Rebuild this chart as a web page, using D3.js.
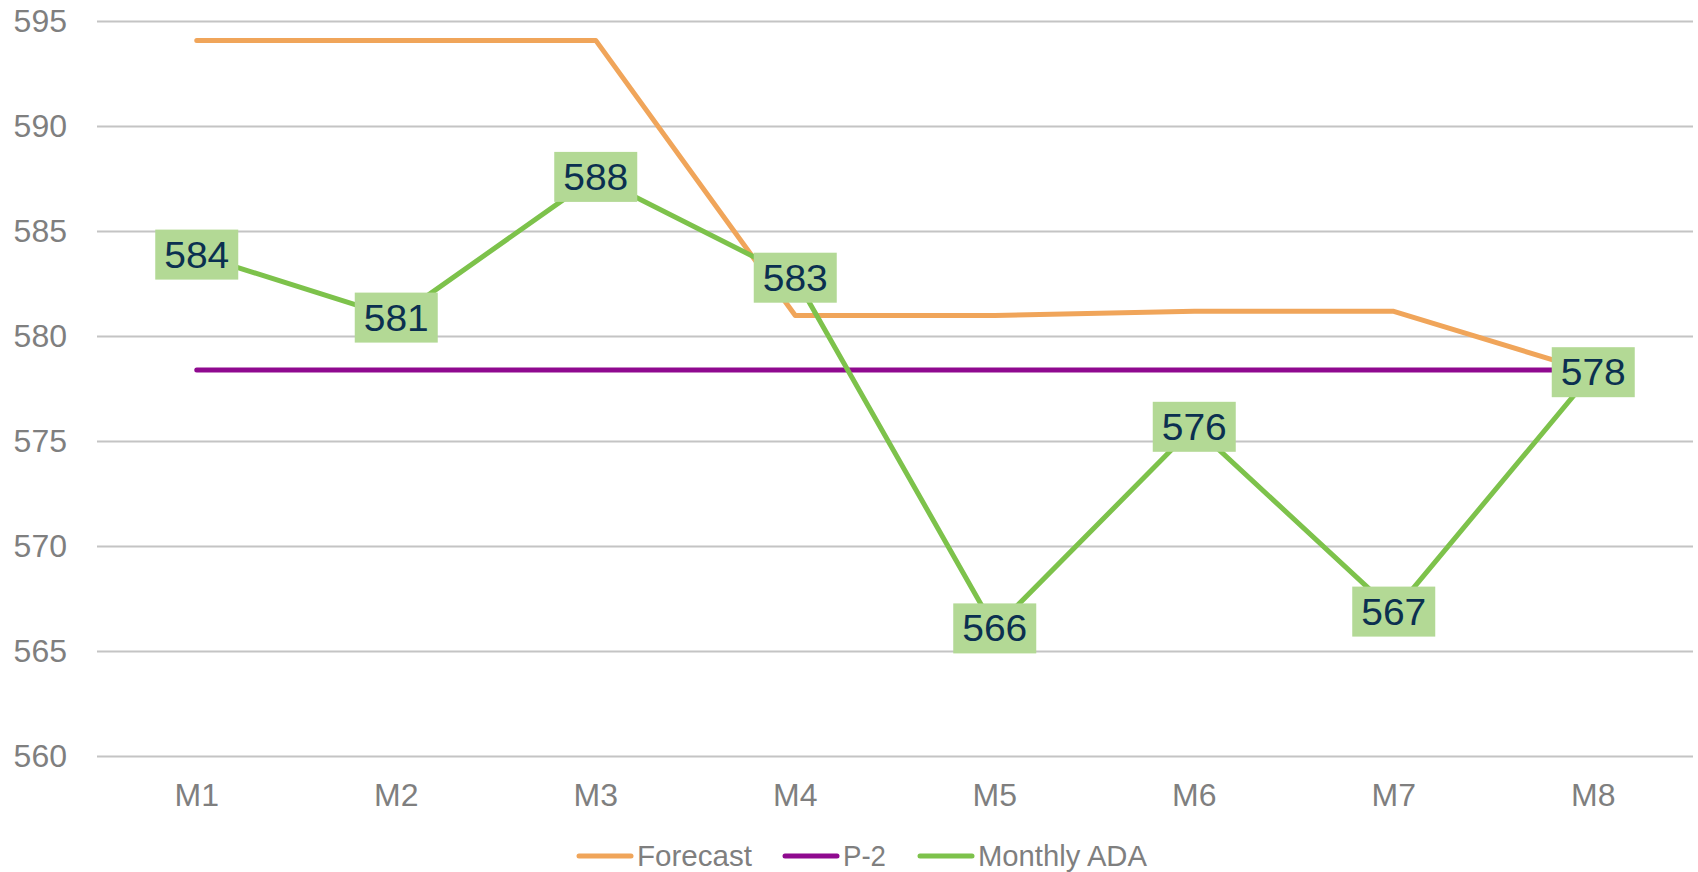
<!DOCTYPE html>
<html><head><meta charset="utf-8">
<script src="https://cdn.jsdelivr.net/npm/d3@7"></script>
<style>body{margin:0;background:#fff}svg{display:block}</style>
</head><body><svg id="c" width="1698" height="872"></svg>
<script>
const categories = ["M1","M2","M3","M4","M5","M6","M7","M8"];
const forecast = [594.1, 594.1, 594.1, 581.0, 581.0, 581.2, 581.2, 578.3];
const p2 = [578.4, 578.4, 578.4, 578.4, 578.4, 578.4, 578.4, 578.4];
const monthlyADA = [583.9, 580.9, 587.6, 582.8, 566.1, 575.7, 566.9, 578.3];
const yTicks = [560, 565, 570, 575, 580, 585, 590, 595];
const seriesNames = ["Forecast", "P-2", "Monthly ADA"];
const colors = ["#f0a55a", "#8f0a8f", "#7dc24b"];

const svg = d3.select("#c");
const x = d3.scaleBand().domain(categories).range([97, 1693]);
const y = d3.scaleLinear().domain([560, 595]).range([756.5, 21.5]);
const cx = d => x(d) + x.bandwidth()/2;
const FONT = "'Liberation Sans', Arial, sans-serif";

// gridlines
svg.append("g").selectAll("line").data(yTicks).join("line")
  .attr("x1", 97).attr("x2", 1693)
  .attr("y1", d => y(d)).attr("y2", d => y(d))
  .attr("stroke", "#c4c4c4").attr("stroke-width", 2);

// y axis labels
const yAxis = svg.append("g").attr("transform", "translate(67,0)")
  .call(d3.axisLeft(y).tickValues(yTicks).tickSize(0).tickPadding(0));
yAxis.select(".domain").remove();
yAxis.selectAll("text").attr("fill", "#7f7f7f")
  .style("font-family", FONT).style("font-size", "32px");

// x axis labels
const xAxis = svg.append("g").attr("transform", "translate(0,783)")
  .call(d3.axisBottom(x).tickSize(0).tickPadding(0));
xAxis.select(".domain").remove();
xAxis.selectAll("text").attr("fill", "#7f7f7f").attr("dy", "0.71em").attr("y", 0)
  .style("font-family", FONT).style("font-size", "32px");

const line = d3.line().x((d,i) => cx(categories[i])).y(d => y(d));
[forecast, p2, monthlyADA].forEach((s, k) => {
  svg.append("path").datum(s).attr("d", line)
    .attr("fill", "none").attr("stroke", colors[k]).attr("stroke-width", 5)
    .attr("stroke-linejoin", "round").attr("stroke-linecap", "round");
});

// data labels
const lab = svg.append("g").selectAll("g").data(monthlyADA).join("g")
  .attr("transform", (d,i) => `translate(${cx(categories[i])},${y(d)})`);
lab.append("rect").attr("x", -41.5).attr("y", -25).attr("width", 83).attr("height", 50)
  .attr("fill", "#b3d995");
lab.append("text").text(d => Math.round(d)).attr("text-anchor", "middle").attr("y", 13)
  .attr("fill", "#0b3050").attr("textLength", 65).attr("lengthAdjust", "spacingAndGlyphs")
  .style("font-family", FONT).style("font-size", "37px");

// legend
const legX = [577, 783, 918];
const legW = [115, 43, 169];
const leg = svg.append("g").selectAll("g").data(seriesNames).join("g")
  .attr("transform", (d,i) => `translate(${legX[i]},856)`);
leg.append("line").attr("x1", 2).attr("x2", 54).attr("stroke", (d,i) => colors[i])
  .attr("stroke-width", 5).attr("stroke-linecap", "round");
leg.append("text").text(d => d).attr("x", 60).attr("y", 10).attr("fill", "#7f7f7f")
  .attr("textLength", (d,i) => legW[i]).attr("lengthAdjust", "spacingAndGlyphs")
  .style("font-family", FONT).style("font-size", "29px");
</script></body></html>
